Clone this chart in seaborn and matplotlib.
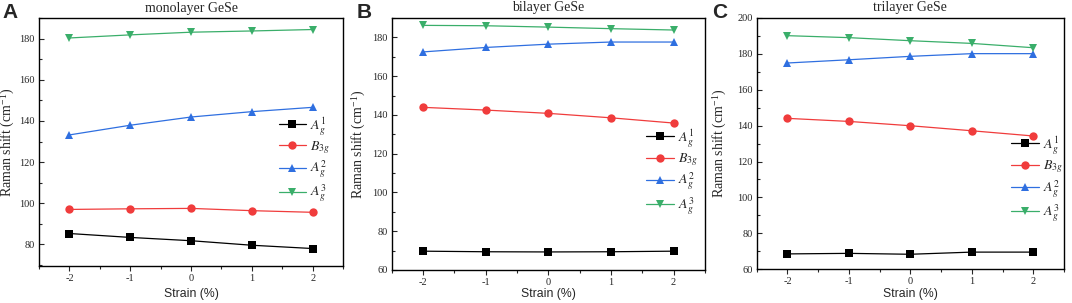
import matplotlib
matplotlib.use("Agg")
import matplotlib.pyplot as plt
import matplotlib.transforms as mtransforms
import pandas as pd
import seaborn as sns
from matplotlib.ticker import MultipleLocator

sns.set_style("white")
plt.rcParams["font.family"] = ["Liberation Serif", "DejaVu Serif"]
plt.rcParams["mathtext.fontset"] = "stix"
plt.rcParams["axes.unicode_minus"] = False

strain = [-2, -1, 0, 1, 2]
modes = ["$A_g^1$", "$B_{3g}$", "$A_g^2$", "$A_g^3$"]
colors = ["#000000", "#f03c3c", "#2f6fe0", "#3aae6a"]
markers = ["s", "o", "^", "v"]

mono_a1g = [85.3, 83.4, 81.8, 79.6, 78.0]
mono_b3g = [97.0, 97.3, 97.5, 96.4, 95.6]
mono_a2g = [133.2, 137.9, 141.9, 144.5, 146.6]
mono_a3g = [180.3, 181.8, 183.1, 183.7, 184.4]

bi_a1g = [69.7, 69.4, 69.3, 69.4, 69.7]
bi_b3g = [143.9, 142.5, 140.8, 138.5, 135.8]
bi_a2g = [172.5, 174.8, 176.5, 177.6, 177.6]
bi_a3g = [186.2, 186.0, 185.3, 184.5, 183.8]

tri_a1g = [68.6, 68.9, 68.4, 69.6, 69.6]
tri_b3g = [144.0, 142.3, 139.9, 137.1, 134.2]
tri_a2g = [174.8, 176.6, 178.5, 180.0, 180.0]
tri_a3g = [190.0, 188.9, 187.2, 185.7, 183.3]

panels = [
    ("A", "monolayer GeSe", [mono_a1g, mono_b3g, mono_a2g, mono_a3g], (69.5, 190),
     [0.0364, 0.122, 0.2836, 0.8186], (0.765, 0.43), -0.072, 2),
    ("B", "bilayer GeSe", [bi_a1g, bi_b3g, bi_a2g, bi_a3g], (60, 190),
     [0.3654, 0.109, 0.2922, 0.8316], (0.79, 0.39), -0.076, 357),
    ("C", "trilayer GeSe", [tri_a1g, tri_b3g, tri_a2g, tri_a3g], (60, 200),
     [0.7059, 0.111, 0.2866, 0.8306], (0.805, 0.36), -0.09, 712),
]

fig = plt.figure(figsize=(10.72, 3.03), dpi=100)

for letter, title, series, ylim, pos, leg_anchor, ylab_x, letter_x in panels:
    ax = fig.add_axes(pos)
    rows = []
    for mode, vals in zip(modes, series):
        for s, v in zip(strain, vals):
            rows.append({"strain": s, "shift": v, "mode": mode})
    df = pd.DataFrame(rows)

    sns.lineplot(
        data=df, x="strain", y="shift", hue="mode", style="mode",
        hue_order=modes, style_order=modes,
        palette=colors, markers=markers, dashes=False,
        markersize=6, markeredgewidth=0, linewidth=0.9, ax=ax,
    )

    ax.set_xlim(-2.5, 2.5)
    ax.set_ylim(*ylim)
    ax.xaxis.set_major_locator(MultipleLocator(1))
    ax.xaxis.set_minor_locator(MultipleLocator(0.5))
    ax.yaxis.set_major_locator(MultipleLocator(20))
    ax.yaxis.set_minor_locator(MultipleLocator(10))
    ax.tick_params(axis="x", which="both", direction="out", bottom=True, labelsize=7.5, pad=2)
    ax.tick_params(axis="x", which="major", length=3.5, width=0.8)
    ax.tick_params(axis="x", which="minor", length=2, width=0.8)
    ax.tick_params(axis="y", which="both", direction="in", left=True, labelsize=7.5, pad=3)
    ax.tick_params(axis="y", which="major", length=3.5, width=0.8)
    ax.tick_params(axis="y", which="minor", length=2, width=0.8)
    for sp in ax.spines.values():
        sp.set_color("black")
        sp.set_linewidth(1.0)

    ax.set_xlabel("Strain (%)", fontsize=8.8, family=["Liberation Sans", "DejaVu Sans"])
    xlab_tr = mtransforms.blended_transform_factory(ax.transAxes, fig.transFigure)
    ax.xaxis.set_label_coords(0.5, 1 - 288 / 303, transform=xlab_tr)
    ax.set_ylabel("Raman shift (cm$^{\\mathregular{-1}}$)", fontsize=10)
    ax.yaxis.set_label_coords(ylab_x, 0.5)
    ax.text(0.5, 1.04, title, transform=ax.transAxes, ha="center", va="center", fontsize=10)

    handles, labels = ax.get_legend_handles_labels()
    ax.legend(handles, labels, loc="center left", bbox_to_anchor=leg_anchor,
              frameon=False, fontsize=10, handlelength=2.0, handletextpad=0.3,
              labelspacing=0.2, borderpad=0)

    fig.text(letter_x / 1072, 1 - 12 / 303, letter, fontsize=15, fontweight="bold",
             family=["Liberation Sans", "DejaVu Sans"], va="center", ha="left")

fig.savefig("out.png", dpi=100)
